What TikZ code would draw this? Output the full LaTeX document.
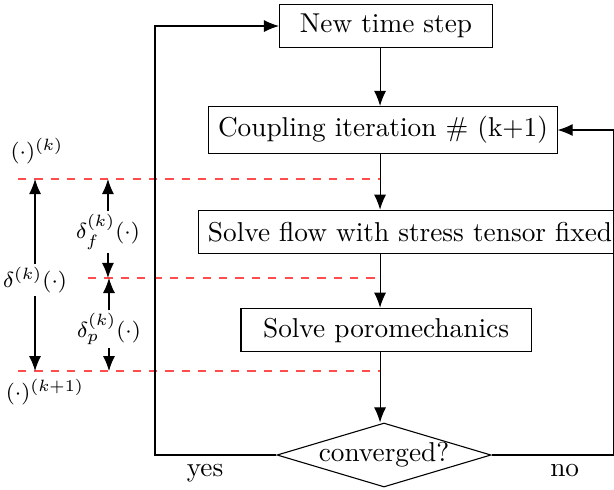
\documentclass[tikz,border=0pt]{standalone}
\usetikzlibrary{shapes.geometric,arrows.meta}
\begin{document}
\begin{tikzpicture}[
    box/.style={draw,minimum height=0.56cm},
    arr/.style={-{Latex[length=5.5pt,width=4.4pt]}},
    lvl/.style={dashed,red!70},
    lbl/.style={font=\footnotesize,inner sep=1pt}]
    \useasboundingbox (0,0) rectangle (7.905,-6.296);
    \node[box,minimum width=2.742cm] (nts) at (4.970,-0.335) {New time step};
    \node[box,minimum height=0.605cm] (cpl) at (4.931,-1.674) {Coupling iteration \# (k+1)};
    \node[box] (flow) at (5.279,-2.987) {Solve flow with stress tensor fixed};
    \node[box,minimum width=3.734cm] (poro) at (4.970,-4.249) {Solve poromechanics};
    \node[draw,diamond,aspect=3.35,minimum width=2.755cm,minimum height=0.824cm,inner sep=0pt] (conv) at (4.944,-5.858) {converged?};
    \node (yes) at (2.64,-6.141) [anchor=base] {yes};
    \node (no) at (7.27,-6.141) [anchor=base] {no};
    \coordinate (spine) at (4.893,0);
    \coordinate (yl) at (1.996,0);
    \coordinate (nr) at (7.905,0);
    \coordinate (lk) at (0.232,-2.305);
    \coordinate (lf) at (1.133,-3.579);
    \coordinate (lk1) at (0.232,-4.777);
    \draw[lvl] (lk) -- (lk -| spine);
    \draw[lvl] (lf) -- (lf -| spine);
    \draw[lvl] (lk1) -- (lk1 -| spine);
    \draw[arr] (nts.south -| spine) -- (cpl.north -| spine);
    \draw[arr] (cpl.south -| spine) -- (flow.north -| spine);
    \draw[arr] (flow.south -| spine) -- (poro.north -| spine);
    \draw[arr] (poro.south -| spine) -- (conv.north -| spine);
    \draw[arr] (conv.west) -- (conv.west -| yl) |- (nts.west);
    \draw[arr] (conv.east) -- (conv.east -| nr) |- (cpl.east);
    \node[lbl] (ak) at (0.476,-1.944) {$(\cdot)^{(k)}$};
    \node[lbl] (ak1) at (0.579,-5.047) {$(\cdot)^{(k+1)}$};
    \node[lbl] (dk) at (0.451,-3.605) {$\delta^{(k)}(\cdot)$};
    \node[lbl] (df) at (1.390,-2.987) {$\delta_f^{(k)}(\cdot)$};
    \node[lbl] (dp) at (1.403,-4.236) {$\delta_p^{(k)}(\cdot)$};
    \draw[arr] (dk) -- (dk |- lk);
    \draw[arr] (dk) -- (dk |- lk1);
    \draw[arr] (df) -- (df |- lk);
    \draw[arr] (df) -- (df |- lf);
    \draw[arr] (dp) -- (dp |- lf);
    \draw[arr] (dp) -- (dp |- lk1);
\end{tikzpicture}
\end{document}
